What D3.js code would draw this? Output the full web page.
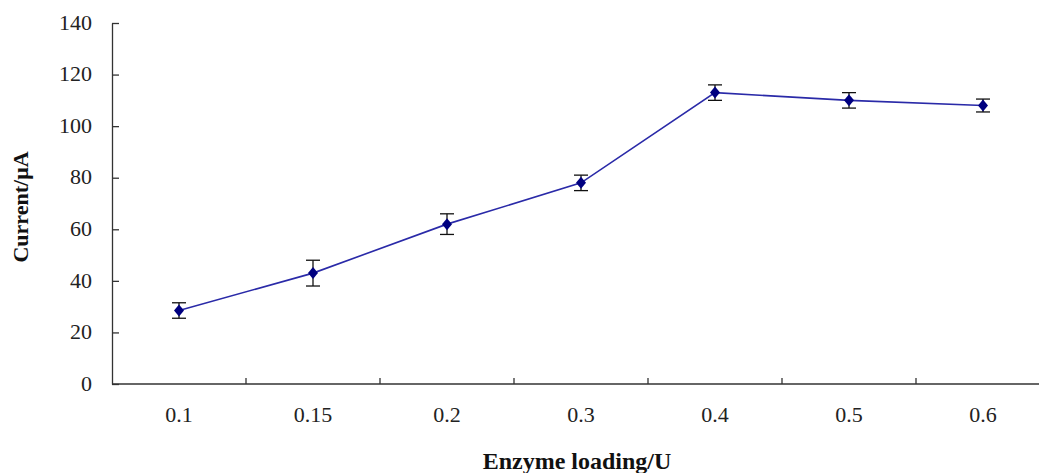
<!DOCTYPE html>
<html>
<head>
<meta charset="utf-8">
<script src="https://cdn.jsdelivr.net/npm/d3@7"></script>
<style>
  body { margin: 0; background: #fff; }
  svg { display: block; }
</style>
</head>
<body>
<div id="chart"></div>
<script>
// data
const categories = ["0.1", "0.15", "0.2", "0.3", "0.4", "0.5", "0.6"];
const currents = [28.5, 43, 62, 78, 113, 110, 108];
const errors = [3, 5, 4, 3, 3, 3, 2.5];
const yTicks = [0, 20, 40, 60, 80, 100, 120, 140];

var width = 1039, height = 473;
var margin = {top: 23, left: 112, bottom: 89};
var plotW = 938; // 7 bands of ~134px, runs off the right edge like the original

var svg = d3.select("#chart")
  .append("svg")
  .attr("width", width)
  .attr("height", height);

const x = d3.scaleBand()
  .domain(categories)
  .range([margin.left, margin.left + plotW]);

const y = d3.scaleLinear()
  .domain([0, 140])
  .range([height - margin.bottom, margin.top]);

const font = "'Liberation Serif', 'Times New Roman', serif";

// y axis, ticks point inward
var yAxis = svg.append("g")
  .attr("transform", "translate(" + margin.left + ",0)")
  .call(d3.axisLeft(y).tickValues(yTicks).tickSize(-7).tickPadding(20).tickSizeOuter(0));
yAxis.select(".domain").attr("stroke", "#333").attr("stroke-width", 1.3);
yAxis.selectAll(".tick line").attr("stroke", "#333").attr("stroke-width", 1.3);
yAxis.selectAll("text")
  .attr("font-family", font)
  .attr("font-size", "22px")
  .attr("dy", "0.28em")
  .attr("fill", "#222");

// x axis, tick marks at band edges
var xAxis = svg.append("g")
  .attr("transform", "translate(0," + y(0) + ")");
xAxis.append("line")
  .attr("x1", margin.left)
  .attr("x2", margin.left + plotW)
  .attr("stroke", "#333")
  .attr("stroke-width", 1.3);
xAxis.selectAll(".edge")
  .data(categories.slice(1))
  .enter().append("line")
  .attr("class", "edge")
  .attr("x1", d => x(d))
  .attr("x2", d => x(d))
  .attr("y1", 0)
  .attr("y2", -6)
  .attr("stroke", "#333")
  .attr("stroke-width", 1.3);
xAxis.selectAll(".lbl")
  .data(categories)
  .enter().append("text")
  .attr("class", "lbl")
  .attr("x", d => x(d) + x.bandwidth() / 2)
  .attr("y", 38)
  .attr("text-anchor", "middle")
  .attr("font-family", font)
  .attr("font-size", "22px")
  .attr("fill", "#222")
  .text(d => d);

// axis titles
svg.append("text")
  .attr("transform", "translate(28,207) rotate(-90)")
  .attr("text-anchor", "middle")
  .attr("font-family", font)
  .attr("font-weight", "bold")
  .attr("font-size", "22px")
  .attr("fill", "#111")
  .text("Current/μA");

svg.append("text")
  .attr("x", 577)
  .attr("y", 469)
  .attr("text-anchor", "middle")
  .attr("font-family", font)
  .attr("font-weight", "bold")
  .attr("font-size", "24px")
  .attr("fill", "#111")
  .text("Enzyme loading/U");

const cx = d => x(d) + x.bandwidth() / 2;

// line
svg.append("path")
  .datum(categories)
  .attr("fill", "none")
  .attr("stroke", "#2a2aa8")
  .attr("stroke-width", 1.6)
  .attr("d", d3.line()
    .x(d => cx(d))
    .y((d, i) => y(currents[i])));

// error bars
var err = svg.selectAll(".err")
  .data(categories)
  .enter().append("g")
  .attr("class", "err");
err.append("line")
  .attr("x1", d => cx(d)).attr("x2", d => cx(d))
  .attr("y1", (d, i) => y(currents[i] + errors[i]))
  .attr("y2", (d, i) => y(currents[i] - errors[i]))
  .attr("stroke", "#111").attr("stroke-width", 1.3);
err.append("line")
  .attr("x1", d => cx(d) - 7).attr("x2", d => cx(d) + 7)
  .attr("y1", (d, i) => y(currents[i] + errors[i]))
  .attr("y2", (d, i) => y(currents[i] + errors[i]))
  .attr("stroke", "#111").attr("stroke-width", 1.3);
err.append("line")
  .attr("x1", d => cx(d) - 7).attr("x2", d => cx(d) + 7)
  .attr("y1", (d, i) => y(currents[i] - errors[i]))
  .attr("y2", (d, i) => y(currents[i] - errors[i]))
  .attr("stroke", "#111").attr("stroke-width", 1.3);

// diamond markers
svg.selectAll(".pt")
  .data(categories)
  .enter().append("path")
  .attr("class", "pt")
  .attr("transform", (d, i) => "translate(" + cx(d) + "," + y(currents[i]) + ")")
  .attr("d", "M0,-6L5,0L0,6L-5,0Z")
  .attr("fill", "#000080");
</script>
</body>
</html>
